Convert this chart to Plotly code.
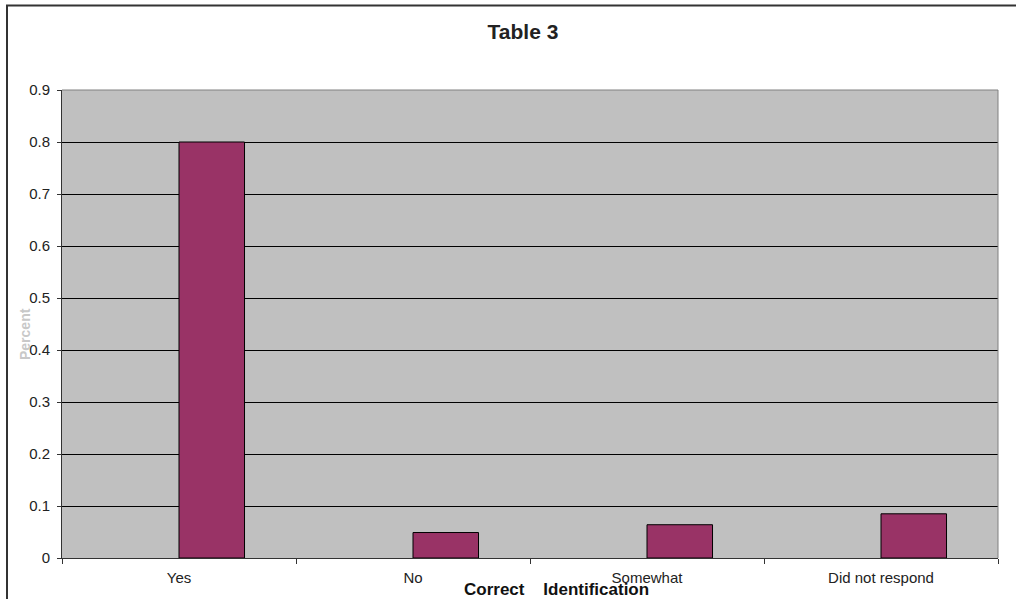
import plotly.graph_objects as go

categories = ["Yes", "No", "Somewhat", "Did not respond"]
values = [0.80, 0.049, 0.064, 0.085]
y_ticks = [0, 0.1, 0.2, 0.3, 0.4, 0.5, 0.6, 0.7, 0.8, 0.9]

fig = go.Figure()
fig.add_trace(go.Bar(
    x=categories, y=values,
    width=0.28, offset=0,
    marker=dict(color="#993366", line=dict(color="#000000", width=1)),
    showlegend=False,
))

W, H = 1016, 599
L, R, T, B = 62, 18, 90, 41
pw, ph = W - L - R, H - T - B

def px(x):
    return (x - L) / pw

def py(y):
    return (H - B - y) / ph

fig.update_layout(
    width=W, height=H,
    margin=dict(l=L, r=R, t=T, b=B),
    paper_bgcolor="white",
    plot_bgcolor="#C0C0C0",
    font=dict(family="Liberation Sans, Arial", size=15, color="#000000"),
    title=dict(text="<b>Table 3</b>", x=523 / W, xref="container", xanchor="center",
               y=1 - 32 / H, yref="container", yanchor="middle",
               font=dict(size=21, color="#222222")),
    xaxis=dict(
        showline=True, linecolor="#333333", linewidth=1,
        ticks="outside", ticklen=5, tickcolor="#333333",
        tickson="boundaries", showgrid=False,
        tickfont=dict(size=15, color="#222222"),
        ticklabelstandoff=6,
        range=[-0.5, 3.5],
    ),
    yaxis=dict(
        range=[0, 0.9], tickvals=y_ticks,
        ticktext=["0" if v == 0 else f"{v:.1f}" for v in y_ticks],
        showline=True, linecolor="#333333", linewidth=1,
        ticks="outside", ticklen=4, tickcolor="#333333",
        showgrid=True, gridcolor="#000000", gridwidth=1,
        zeroline=False,
        tickfont=dict(size=15, color="#222222"),
        ticklabelstandoff=4,
    ),
    shapes=[
        dict(type="rect", xref="paper", yref="paper",
             x0=px(7), x1=px(1022), y0=py(5.5), y1=py(610),
             line=dict(color="#333333", width=2), fillcolor="rgba(0,0,0,0)"),
        dict(type="line", xref="paper", yref="paper",
             x0=0, x1=1, y0=1, y1=1, line=dict(color="#808080", width=1)),
        dict(type="line", xref="paper", yref="paper",
             x0=1, x1=1, y0=0, y1=1, line=dict(color="#808080", width=1)),
    ],
    annotations=[
        dict(text="<b>Percent</b>", xref="paper", yref="paper",
             x=px(25), y=py(334), textangle=-90, showarrow=False,
             font=dict(size=14, color="#C8C8C8"), xanchor="center", yanchor="middle"),
        dict(text="<b>Correct    Identification</b>", xref="paper", yref="paper",
             x=px(556), y=py(589), showarrow=False,
             font=dict(size=17, color="#111111"), xanchor="center", yanchor="middle"),
    ],
)

fig.write_html("out.html")
